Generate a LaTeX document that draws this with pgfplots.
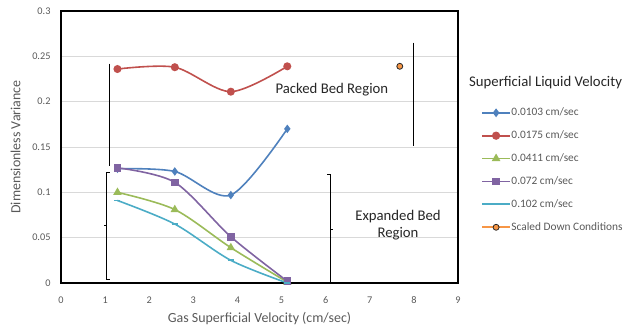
\documentclass[border=0pt]{standalone}
\usepackage{pgfplots}
\pgfplotsset{compat=1.18}
\usepackage{fontspec}
\setmainfont{Carlito}
\definecolor{cblue}{HTML}{4F81BD}
\definecolor{cred}{HTML}{C0504D}
\definecolor{cgreen}{HTML}{9BBB59}
\definecolor{cpurple}{HTML}{8064A2}
\definecolor{ccyan}{HTML}{4BACC6}
\definecolor{corange}{HTML}{F79646}
\definecolor{txt}{HTML}{595959}
\begin{document}
\begin{tikzpicture}
\begin{axis}[
  at={(61bp,43bp)}, anchor=south west,
  scale only axis, width=397bp, height=272bp,
  xmin=0, xmax=9, ymin=0, ymax=0.3,
  xtick={0,1,...,9},
  ytick={0,0.05,0.1,0.15,0.2,0.25,0.3},
  yticklabels={0,0.05,0.1,0.15,0.2,0.25,0.3},
  major tick length=0pt,
  ymajorgrids, grid style={draw=black!15, line width=0.8pt},
  axis line style={black, line width=1.1pt},
  tick label style={font=\fontsize{10.3}{12}\selectfont, text=txt},
  /pgf/number format/assume math mode=true,
  xticklabel style={yshift=-10bp},
  yticklabel style={xshift=-7bp},
  xlabel={Gas Superficial Velocity (cm/sec)},
  ylabel={Dimensionless Variance},
  label style={font=\fontsize{14}{16}\selectfont, text=txt},
  xlabel style={yshift=-2bp},
  ylabel style={yshift=5bp},
  clip=false,
  legend style={at={(1.0504,0.655)}, anchor=north west, draw=none, fill=none,
     font=\fontsize{11.4}{13.5}\selectfont, text=txt, row sep=11.4bp,
     nodes={inner sep=0.5bp, text height=8bp, text depth=2.5bp}},
  legend cell align=left,
  legend image code/.code={
    \draw[mark repeat=2, mark phase=2, #1, line width=1.8pt] plot coordinates {(0bp,0bp) (14bp,0bp) (28bp,0bp)};
  },
]
\addplot[cblue, line width=1.6pt, smooth, mark=diamond*, mark size=3pt, mark options={solid}]
  coordinates {(1.28,0.126) (2.58,0.123) (3.85,0.097) (5.13,0.170)};
\addlegendentry{0.0103 cm/sec}
\addplot[cred, line width=1.6pt, smooth, mark=*, mark size=3.2pt]
  coordinates {(1.28,0.236) (2.58,0.238) (3.85,0.211) (5.13,0.239)};
\addlegendentry{0.0175 cm/sec}
\addplot[cgreen, line width=1.6pt, smooth, mark=triangle*, mark size=3.3pt]
  coordinates {(1.28,0.100) (2.58,0.081) (3.85,0.039) (5.13,0.001)};
\addlegendentry{0.0411 cm/sec}
\addplot[cpurple, line width=1.6pt, smooth, mark=square*, mark size=3pt]
  coordinates {(1.28,0.127) (2.58,0.111) (3.85,0.051) (5.13,0.002)};
\addlegendentry{0.072 cm/sec}
\addplot[ccyan, line width=1.6pt, smooth, mark=-, mark size=3pt, mark options={line width=1.8pt}]
  coordinates {(1.28,0.091) (2.58,0.065) (3.85,0.025) (5.13,0.000)};
\addlegendentry{0.102 cm/sec}
\addplot[corange, line width=1.6pt, mark=*, mark size=3pt, mark options={fill=corange, draw=black!85, line width=0.8pt}]
  coordinates {(7.68,0.239)};
\addlegendentry{Scaled Down Conditions}
% brackets
\addplot[black, line width=0.9pt, forget plot] coordinates {(1.09,0.242) (1.09,0.129)};
\addplot[black, line width=0.9pt, forget plot] coordinates {(8.0,0.265) (8.0,0.151)};
\addplot[black, line width=0.9pt, forget plot] coordinates {(1.10,0.122) (1.03,0.122) (1.03,0.004) (1.10,0.004)};
\addplot[black, line width=0.9pt, forget plot] coordinates {(1.03,0.063) (0.97,0.063)};
\addplot[black, line width=0.9pt, forget plot] coordinates {(6.04,0.120) (6.11,0.120) (6.11,0.000) (6.04,0.000)};
\addplot[black, line width=0.9pt, forget plot] coordinates {(6.11,0.059) (6.17,0.059)};
\node[font=\fontsize{14.8}{17}\selectfont, text=black!85] at (axis cs:6.14,0.213) {Packed Bed Region};
\node[font=\fontsize{14.8}{17}\selectfont, text=black!85, align=center] at (axis cs:7.64,0.064) {Expanded Bed\\Region};
\node[font=\fontsize{14.8}{17}\selectfont, text=black!85, anchor=west, inner sep=0pt] at (axis description cs:1.0277,0.737) {Superficial Liquid Velocity};
\end{axis}
\pgfresetboundingbox
\path[use as bounding box] (0bp,0bp) rectangle (626bp,326bp);
\end{tikzpicture}
\end{document}
